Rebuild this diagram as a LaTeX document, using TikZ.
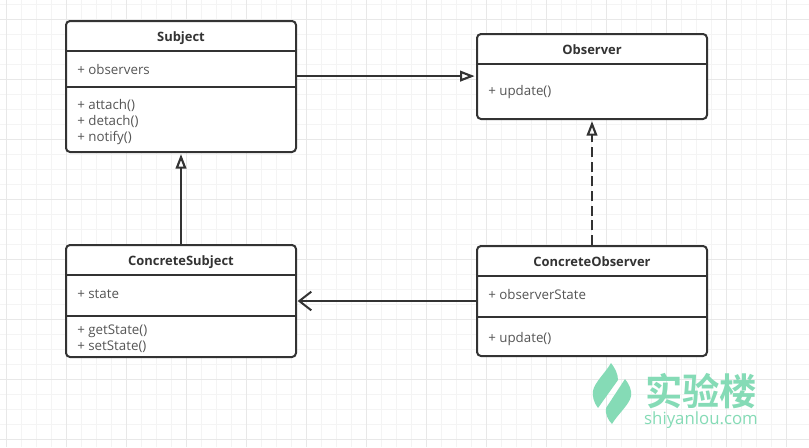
\documentclass[tikz,border=0pt]{standalone}
\usepackage{fontspec}
\setmainfont{Open Sans}
\newfontfamily\cjkfont{Noto Sans CJK SC}[BoldFont={* Bold}]
\usetikzlibrary{arrows.meta,calc}
\definecolor{inkc}{HTML}{333333}
\definecolor{txtc}{HTML}{555555}
\definecolor{gridminor}{HTML}{F4F4F4}
\definecolor{gridmajor}{HTML}{E8E8E8}
\definecolor{logoc}{HTML}{85DBB6}
\tikzset{
  x=0.75pt,y=-0.75pt,
  umlbox/.style={draw=inkc,line width=1.5pt,rounded corners=3pt,fill=white,minimum width=172.5pt,inner sep=0pt},
  divider/.style={draw=inkc,line width=1.5pt},
  umltitle/.style={font=\fontsize{9.7pt}{11pt}\selectfont\bfseries,text=inkc,inner sep=0pt,anchor=base},
  umlitem/.style={font=\fontsize{10pt}{12pt}\selectfont,text=txtc,inner sep=0pt,anchor=base west,align=left},
  conn/.style={draw=inkc,line width=1.5pt},
  hollowhead/.style={-{Triangle[open,length=11pt,width=8pt,line width=1.6pt]}},
  openhead/.style={-{Straight Barb[length=9pt,width=14pt,line width=1.5pt]}},
}
\begin{document}
\begin{tikzpicture}
\useasboundingbox (0,0) rectangle (809,447);
\fill[white] (0,0) rectangle (809,447);
% grid
\foreach \gx in {6,21,...,800} \draw[gridminor,line width=0.75pt] (\gx,0) -- (\gx,447);
\foreach \gy in {4,19,...,446} \draw[gridminor,line width=0.75pt] (0,\gy) -- (809,\gy);
\foreach \gx in {6,66,...,800} \draw[gridmajor,line width=0.75pt] (\gx,0) -- (\gx,447);
\foreach \gy in {19,79,...,446} \draw[gridmajor,line width=0.75pt] (0,\gy) -- (809,\gy);
% boxes
\node[umlbox,minimum height=98.25pt] (subject) at (181,86.5) {};
\node[umlbox,minimum height=63.75pt] (observer) at (592,76.5) {};
\node[umlbox,minimum height=84pt] (csubject) at (181,301) {};
\node[umlbox,minimum height=82.5pt] (cobserver) at (592,301) {};
% dividers
\draw[divider] (subject.west |- 0,51) -- (subject.east |- 0,51);
\draw[divider] (subject.west |- 0,87) -- (subject.east |- 0,87);
\draw[divider] (observer.west |- 0,64) -- (observer.east |- 0,64);
\draw[divider] (csubject.west |- 0,275) -- (csubject.east |- 0,275);
\draw[divider] (csubject.west |- 0,316) -- (csubject.east |- 0,316);
\draw[divider] (cobserver.west |- 0,276) -- (cobserver.east |- 0,276);
\draw[divider] (cobserver.west |- 0,317) -- (cobserver.east |- 0,317);
% texts
\node[umltitle] (t1) at (181,41.5) {Subject};
\node[umlitem] (a1) at (77,74) {+ observers};
\node[umlitem] (m1a) at (77,109.5) {+ attach()};
\node[umlitem] (m1b) at (77,125.5) {+ detach()};
\node[umlitem] (m1c) at (77,141.5) {+ notify()};
\node[umltitle] (t2) at (592,54.5) {Observer};
\node[umlitem] (m2) at (488,95) {+ update()};
\node[umltitle] (t3) at (181,265.5) {ConcreteSubject};
\node[umlitem] (a3) at (77,298) {+ state};
\node[umlitem] (m3a) at (77,334.5) {+ getState()};
\node[umlitem] (m3b) at (77,350.5) {+ setState()};
\node[umltitle] (t4) at (592,266.5) {ConcreteObserver};
\node[umlitem] (a4) at (488,299) {+ observerState};
\node[umlitem] (m4) at (488,342) {+ update()};
% connectors
\draw[conn,hollowhead] ([yshift=0.3pt]observer.west -| subject.east) -- ([xshift=-1pt,yshift=0.3pt]observer.west);
\draw[conn,hollowhead] (csubject.north) -- ([yshift=-0.8pt]subject.south);
\draw[conn,hollowhead,dash pattern=on 7.5pt off 3.5pt] (cobserver.north) -- ([yshift=-0.8pt]observer.south);
\draw[conn,openhead] (cobserver.west) -- ([xshift=0.5pt]cobserver.west -| csubject.east);
% logo
\fill[logoc] (611,363) .. controls (615,368) and (618,374) .. (618,380) -- (598,408) .. controls (594,403) and (592,396) .. (593,391) .. controls (594,383) and (606,372) .. (611,363) -- cycle;
\fill[logoc] (625,379) .. controls (629,384) and (632,390) .. (631,396) .. controls (630,404) and (617,415) .. (612,424) .. controls (608,420) and (605,414) .. (606,408) -- cycle;
\node[inner sep=0pt,text=logoc,font=\cjkfont\bfseries\fontsize{28pt}{30pt}\selectfont] (logocn) at (701,391) {实验楼};
\node[inner sep=0pt,text=logoc,font=\fontsize{12.6pt}{15pt}\selectfont] (logoen) at (701,420) {shiyanlou.com};
\end{tikzpicture}
\end{document}
